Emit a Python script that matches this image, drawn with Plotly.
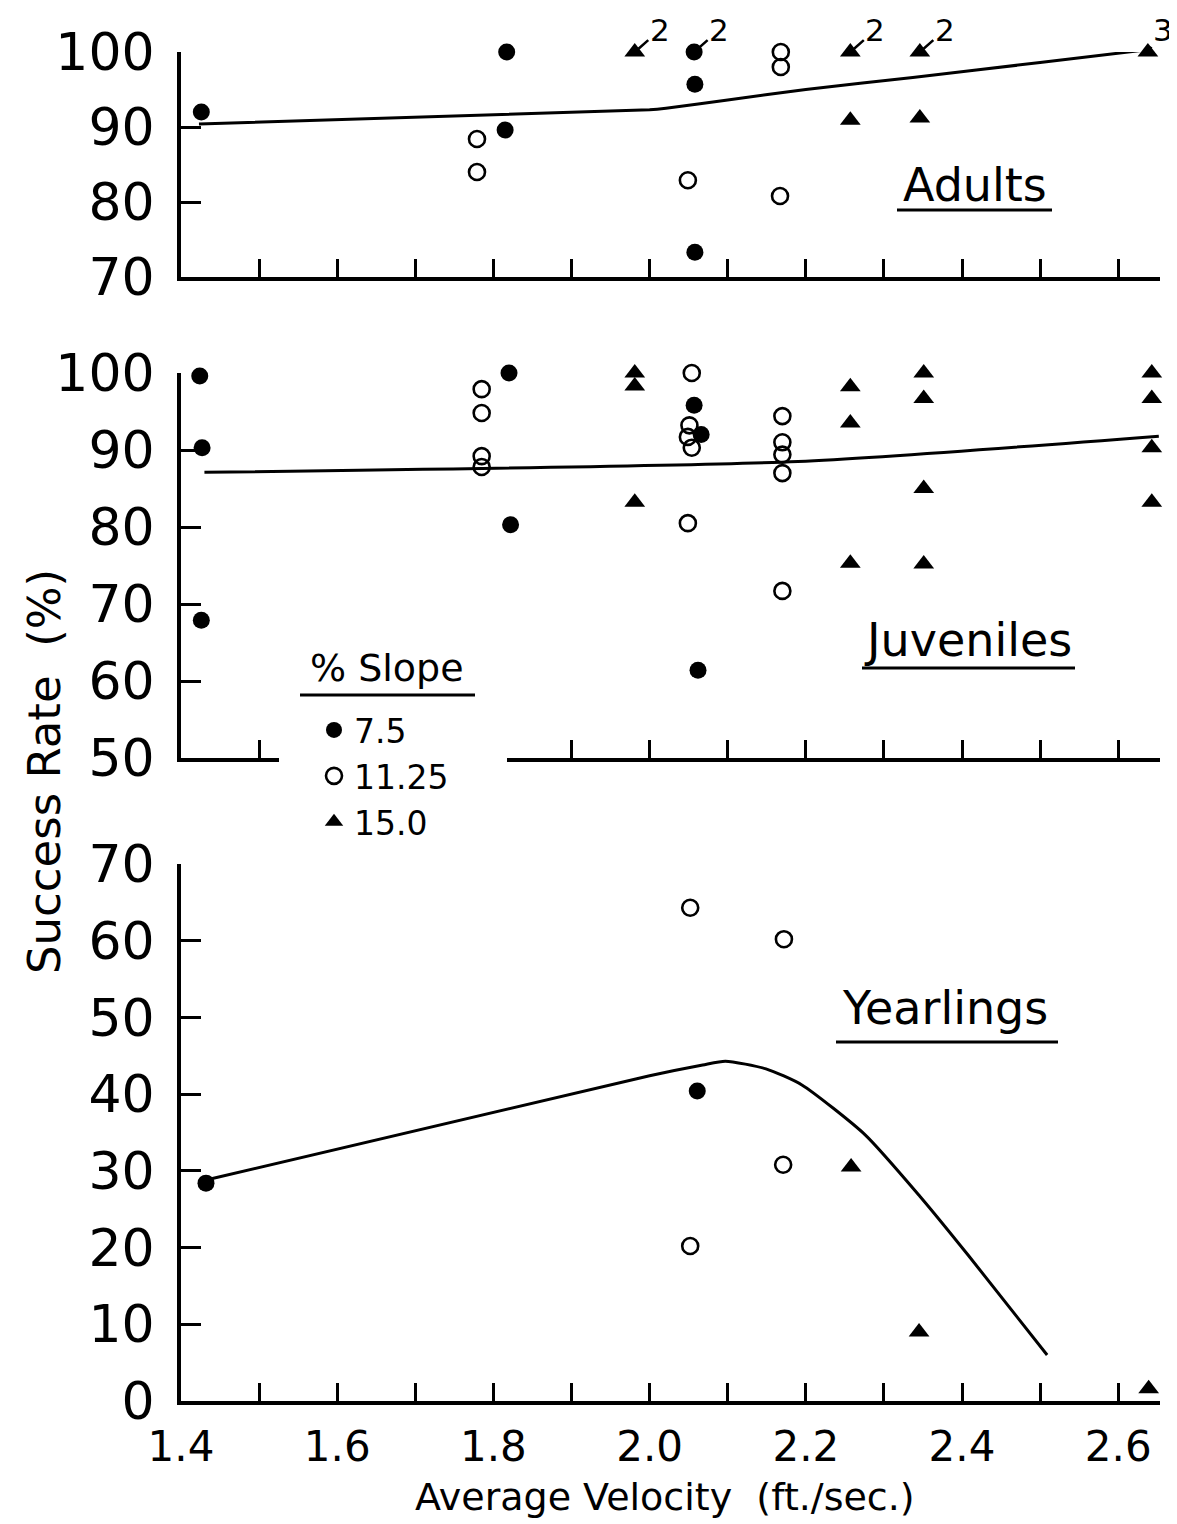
import plotly.graph_objects as go

# ---------------- data ----------------
slope_names = ["7.5", "11.25", "15.0"]

# Adults
adult_75_x = [1.426, 1.817, 1.815, 2.057, 2.058, 2.058]
adult_75_y = [92.0, 100.0, 89.6, 100.0, 95.7, 73.3]
adult_1125_x = [1.779, 1.779, 2.049, 2.168, 2.168, 2.167]
adult_1125_y = [88.4, 84.0, 82.9, 100.0, 98.0, 80.8]
adult_15_x = [1.981, 2.257, 2.346, 2.638, 2.257, 2.346]
adult_15_y = [100.0, 100.0, 100.0, 100.0, 90.9, 91.2]
adult_fit_x = [1.423, 2.0, 2.021, 2.1, 2.2, 2.337, 2.5, 2.629]
adult_fit_y = [90.4, 92.3, 92.5, 93.6, 95.0, 96.6, 98.6, 100.2]
count_x = [1.981, 2.057, 2.257, 2.346, 2.638]
count_y = [100.0, 100.0, 100.0, 100.0, 100.0]
count_label = ["2", "2", "2", "2", "3"]

# Juveniles
juv_75_x = [1.424, 1.427, 1.426, 1.820, 1.822, 2.057, 2.066, 2.062]
juv_75_y = [99.6, 90.3, 67.9, 100.0, 80.3, 95.8, 92.0, 61.4]
juv_1125_x = [1.785, 1.785, 1.785, 1.785, 2.054, 2.051, 2.049, 2.054, 2.049,
              2.170, 2.170, 2.170, 2.170, 2.170]
juv_1125_y = [97.9, 94.8, 89.2, 87.8, 100.0, 93.2, 91.7, 90.3, 80.5,
              94.4, 91.0, 89.4, 87.0, 71.7]
juv_15_x = [1.981, 1.981, 1.981, 2.257, 2.257, 2.257, 2.351, 2.351, 2.351, 2.351,
            2.643, 2.643, 2.643, 2.643]
juv_15_y = [100.0, 98.3, 83.2, 98.2, 93.5, 75.3, 100.0, 96.7, 85.0, 75.2,
            100.0, 96.7, 90.3, 83.2]
juv_fit_x = [1.43, 2.19, 2.652]
juv_fit_y = [87.1, 88.5, 91.8]

# Yearlings
yr_75_x = [1.432, 2.061]
yr_75_y = [28.4, 40.4]
yr_1125_x = [2.052, 2.172, 2.171, 2.052]
yr_1125_y = [64.3, 60.2, 30.8, 20.2]
yr_15_x = [2.258, 2.345, 2.639]
yr_15_y = [30.5, 9.0, 1.6]
yr_fit_x = [1.432, 2.0, 2.068, 2.097, 2.149, 2.195, 2.276, 2.346, 2.408, 2.509]
yr_fit_y = [28.8, 42.4, 43.8, 44.3, 43.3, 41.2, 34.7, 26.7, 19.0, 6.0]

x_ticks = [1.4, 1.6, 1.8, 2.0, 2.2, 2.4, 2.6]
panel_names = ["Adults", "Juveniles", "Yearlings"]

# ---------------- figure ----------------
FONT = "DejaVu Sans"
OFF = 8                      # default page body margin
W, H = 1177 - OFF, 1524 - OFF
PL, PR, PT, PB = 181, 1160, 20, 1401   # plot area in page pixels
ML, MR, MT = PL - OFF, (OFF + W) - PR, PT - OFF
MB = (OFF + H) - PB
PW = PR - PL
PH = PB - PT


def px_x(p):
    return (p - PL) / PW


def px_y(p):
    return (PB - p) / PH


sym = {
    "7.5": dict(symbol="circle", size=17, color="black"),
    "11.25": dict(symbol="circle-open", size=16, color="black", line=dict(width=2.6, color="black")),
    "15.0": dict(symbol="triangle-up", size=18, color="black"),
}

fig = go.Figure()

panels = [
    ("x", "y", [(adult_75_x, adult_75_y), (adult_1125_x, adult_1125_y), (adult_15_x, adult_15_y)], (adult_fit_x, adult_fit_y)),
    ("x2", "y2", [(juv_75_x, juv_75_y), (juv_1125_x, juv_1125_y), (juv_15_x, juv_15_y)], (juv_fit_x, juv_fit_y)),
    ("x3", "y3", [(yr_75_x, yr_75_y), (yr_1125_x, yr_1125_y), (yr_15_x, yr_15_y)], (yr_fit_x, yr_fit_y)),
]

for pi, (xa, ya, series, fit) in enumerate(panels):
    fig.add_trace(go.Scatter(x=fit[0], y=fit[1], mode="lines", xaxis=xa, yaxis=ya,
                             line=dict(color="black", width=3, shape="spline", smoothing=0.6),
                             showlegend=False, hoverinfo="skip", cliponaxis=False))
    for si, (sx, sy) in enumerate(series):
        name = slope_names[si]
        fig.add_trace(go.Scatter(x=sx, y=sy, mode="markers", xaxis=xa, yaxis=ya, name=name,
                                 marker=sym[name], cliponaxis=False,
                                 showlegend=(pi == 0), legendgroup=name))

# axes
xbase = dict(range=[1.4, 1.4 + PW / 781.0], showline=True, linewidth=4, linecolor="black",
             ticks="inside", ticklen=18, tickwidth=3, tickcolor="black", tick0=1.4, dtick=0.1,
             showticklabels=False, showgrid=False, zeroline=False, fixedrange=True,
             automargin=False)
ybase = dict(showline=True, linewidth=4, linecolor="black", ticks="inside", ticklen=20,
             tickwidth=3, tickcolor="black", dtick=10, showgrid=False, zeroline=False,
             tickfont=dict(family=FONT, size=52, color="black"), ticklabelstandoff=12,
             automargin=False, fixedrange=True)

domains = [
    [px_y(277), px_y(52)],
    [px_y(758), px_y(373)],
    [0.0, px_y(864)],
]
yranges = [[70, 100], [50, 100], [0, 70]]

layout = dict(
    template="none",
    width=W, height=H,
    margin=dict(l=ML, r=MR, t=MT, b=MB, autoexpand=False),
    paper_bgcolor="white", plot_bgcolor="white",
    font=dict(family=FONT, color="black"),
)
layout["xaxis"] = dict(xbase, anchor="y")
layout["xaxis2"] = dict(xbase, anchor="y2")
x3 = dict(xbase, anchor="y3")
x3.update(dict(tickvals=x_ticks, ticktext=[f"{v:.1f}" for v in x_ticks], showticklabels=True,
               tickfont=dict(family=FONT, size=42, color="black"), ticklabelstandoff=6,
               minor=dict(tick0=1.4, dtick=0.1, ticks="inside", ticklen=18, tickwidth=3,
                          tickcolor="black", showgrid=False)))
layout["xaxis3"] = x3
layout["yaxis"] = dict(ybase, domain=domains[0], range=yranges[0], anchor="x")
layout["yaxis2"] = dict(ybase, domain=domains[1], range=yranges[1], anchor="x2")
layout["yaxis3"] = dict(ybase, domain=domains[2], range=yranges[2], anchor="x3")

layout["legend"] = dict(x=px_x(314), y=px_y(702), xanchor="left", yanchor="top",
                        bgcolor="rgba(0,0,0,0)", font=dict(family=FONT, size=33, color="black"),
                        itemsizing="trace", tracegroupgap=0)

fig.update_layout(**layout)

# annotations: panel labels
label_pos = [(975, 185, 897, 1052, 210), (968, 640, 862, 1075, 668), (945, 1008, 836, 1058, 1042)]
shapes = []
for name, (cx, cy, ux0, ux1, uy) in zip(panel_names, label_pos):
    fig.add_annotation(text=name, x=px_x(cx), y=px_y(cy), xref="paper", yref="paper",
                       xanchor="center", yanchor="middle", showarrow=False,
                       font=dict(family=FONT, size=46, color="black"))
    shapes.append(dict(type="line", xref="paper", yref="paper", x0=px_x(ux0), x1=px_x(ux1),
                       y0=px_y(uy), y1=px_y(uy), line=dict(color="black", width=3), layer="above"))

# legend heading
fig.add_annotation(text="% Slope", x=px_x(387), y=px_y(668), xref="paper", yref="paper",
                   xanchor="center", yanchor="middle", showarrow=False,
                   font=dict(family=FONT, size=38, color="black"))

# gap in the juvenile axis behind the legend
shapes.append(dict(type="rect", xref="paper", yref="paper", x0=px_x(279), x1=px_x(507),
                   y0=px_y(768), y1=px_y(734), fillcolor="white", line=dict(width=0), layer="above"))
# legend heading underline
shapes.append(dict(type="line", xref="paper", yref="paper", x0=px_x(300), x1=px_x(475),
                   y0=px_y(695), y1=px_y(695), line=dict(color="black", width=3), layer="above"))

fig.update_layout(shapes=shapes)

# replicate-count labels
count_ax = [25, 25, 25, 25, 15]
for cx, cy, lab, axo in zip(count_x, count_y, count_label, count_ax):
    fig.add_annotation(text=lab, x=cx, y=cy, xref="x", yref="y", showarrow=True, arrowhead=0,
                       arrowwidth=2.5, arrowcolor="black", ax=axo, ay=-22, standoff=5,
                       font=dict(family=FONT, size=31, color="black"))

# axis titles
fig.add_annotation(text="Success Rate\u00a0\u00a0(%)", x=px_x(45), y=px_y(772), xref="paper", yref="paper",
                   xanchor="center", yanchor="middle",
                   textangle=-90, showarrow=False, font=dict(family=FONT, size=45, color="black"))
fig.add_annotation(text="Average Velocity\u00a0\u00a0(ft./sec.)", x=px_x(665), y=px_y(1497),
                   xref="paper", yref="paper", xanchor="center", yanchor="middle", showarrow=False,
                   font=dict(family=FONT, size=38, color="black"))

fig.write_html("out.html")
